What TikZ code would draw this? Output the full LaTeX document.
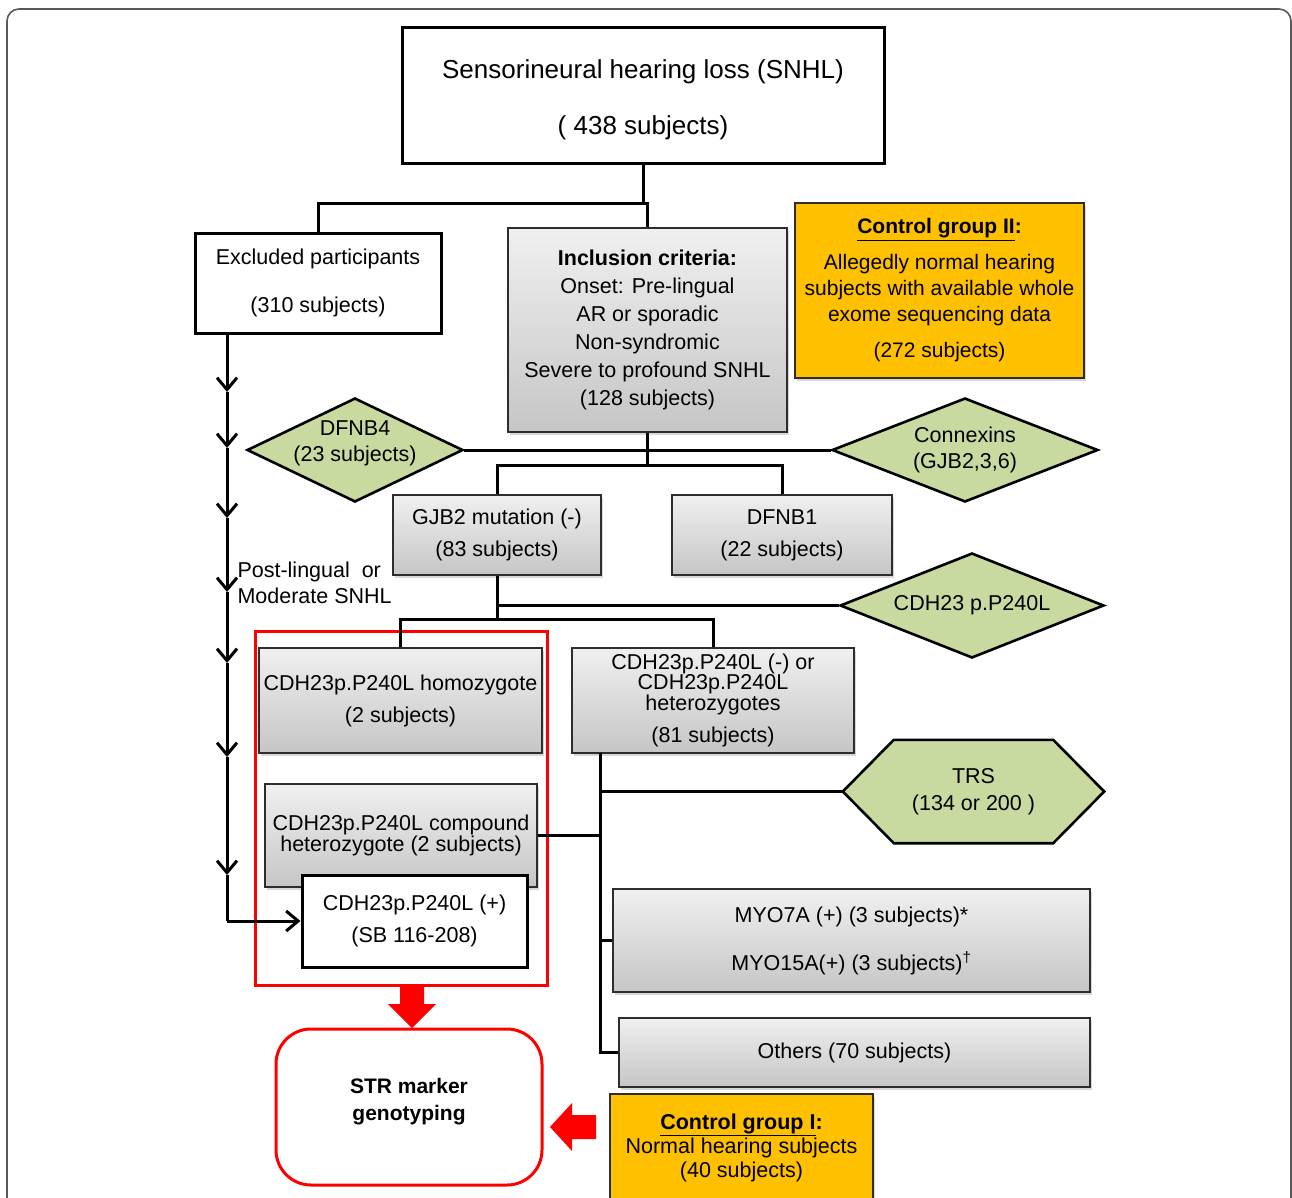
\documentclass[tikz,border=0pt]{standalone}
\usepackage{fontspec}
\setmainfont{Liberation Sans}
\usetikzlibrary{shapes.geometric,arrows.meta,shadows}
\definecolor{boxgreen}{RGB}{200,218,160}
\definecolor{ctrlorange}{RGB}{255,192,0}
\definecolor{boxedge}{RGB}{45,45,45}
\newcommand{\myfs}[1]{\fontsize{21.5}{#1}\selectfont}
\tikzset{
  conn/.style={line width=3pt, black},
  chev/.style={conn, -{Straight Barb[length=12pt,width=20pt,line width=3pt]}},
  wbox/.style={draw=black, line width=3pt, fill=white, inner sep=0pt, align=center},
  gbox/.style={draw=boxedge, line width=1.8pt, top color=gray!12, bottom color=gray!45,
    inner sep=0pt, align=center,
    drop shadow={shadow xshift=2pt, shadow yshift=-3pt, opacity=0.3}},
  obox/.style={draw=boxedge, line width=1.8pt, fill=ctrlorange, inner sep=0pt, align=center,
    drop shadow={shadow xshift=2pt, shadow yshift=-3pt, opacity=0.3}},
  gdiam/.style={diamond, draw=black, line width=2.6pt, fill=boxgreen, inner sep=0pt},
  greenshape/.style={draw=black, line width=2.6pt, fill=boxgreen, line join=miter},
  redblock/.style={fill=red, draw=none},
}
\begin{document}
\begin{tikzpicture}[x=1pt, y=-1pt]
\useasboundingbox (0,0) rectangle (1292,1197);
\clip (0,0) rectangle (1292,1197);
\fill[white] (0,0) rectangle (1292,1197);
% outer frame
\draw[line width=1.6pt, black!65, rounded corners=12pt] (7,1230) -- (7,9) -- (1291,9) -- (1291,1230);

% boxes
\node[wbox, minimum width=482, minimum height=136,
  label={[align=center, font=\fontsize{26}{56}\selectfont, yshift=-5pt]center:Sensorineural hearing loss (SNHL)\\( 438 subjects)}] (snhl) at (643,95) {};
\node[wbox, minimum width=246, minimum height=100, font=\myfs{48}] (excl) at (318,283)
  {Excluded participants\\(310 subjects)};
\node[gbox, minimum width=279, minimum height=204, font=\myfs{28}] (incl) at (647.5,330)
  {\textbf{Inclusion criteria:}\\Onset: Pre-lingual\\AR or sporadic\\Non-syndromic\\Severe to profound SNHL\\(128 subjects)};
\node[obox, minimum width=289, minimum height=175, font=\fontsize{21}{26}\selectfont] (ctrl2) at (939.5,290.5)
  {\textbf{\underline{Control group II}:}\\[10pt]Allegedly normal hearing\\subjects with available whole\\exome sequencing data\\[10pt](272 subjects)};

\node[gdiam, minimum width=216, minimum height=104,
  label={[align=center, font=\myfs{26}, yshift=7pt]center:DFNB4\\(23 subjects)}] (dfnb4) at (355,450) {};
\node[gdiam, minimum width=266, minimum height=104,
  label={[align=center, font=\myfs{26}]center:Connexins\\(GJB2,3,6)}] (conx) at (965,450) {};

\node[gbox, minimum width=208, minimum height=80, font=\myfs{32}] (gjb2) at (497,535)
  {GJB2 mutation (-)\\(83 subjects)};
\node[gbox, minimum width=220, minimum height=80, font=\myfs{32}] (dfnb1) at (782,535)
  {DFNB1\\(22 subjects)};

\node[gdiam, minimum width=264, minimum height=105,
  label={[font=\myfs{26}]center:CDH23 p.P240L}] (cdh) at (972,605.5) {};

% red frame
\node[draw=red, line width=3pt, minimum width=292, minimum height=354, inner sep=0pt] (redframe) at (401,808) {};

\node[gbox, minimum width=283, minimum height=105, font=\myfs{32}] (homo) at (400.5,700.5)
  {CDH23p.P240L homozygote\\(2 subjects)};
\node[gbox, minimum width=282, minimum height=105, font=\myfs{20}] (minus) at (713,700.5)
  {CDH23p.P240L (-) or\\CDH23p.P240L\\heterozygotes\\[11pt](81 subjects)};
\node[gbox, minimum width=272, minimum height=103, font=\myfs{20}] (comp) at (401,835.5)
  {CDH23p.P240L compound\\heterozygote (2 subjects)};
\node[wbox, minimum width=225, minimum height=92, font=\myfs{32}] (plus) at (414.5,921)
  {CDH23p.P240L (+)\\(SB 116-208)};

% TRS hexagon
\path node[minimum width=261, minimum height=103, inner sep=0pt] (trs) at (973.5,791.5) {};
\draw[greenshape] (trs.west) -- ([xshift=51pt]trs.north west) -- ([xshift=-51pt]trs.north east)
  -- (trs.east) -- ([xshift=-51pt]trs.south east) -- ([xshift=51pt]trs.south west) -- cycle;
\node[align=center, font=\myfs{27}] (trstext) at (trs.center) {TRS\\(134 or 200 )};

\node[gbox, minimum width=477, minimum height=103, font=\myfs{48}] (myo) at (851.5,940.5)
  {MYO7A (+) (3 subjects)*\\MYO15A(+) (3 subjects)\textsuperscript{†}};
\node[gbox, minimum width=471, minimum height=69, font=\myfs{26}] (others) at (854.5,1052.5)
  {Others (70 subjects)};

\node[draw=red, line width=3pt, rounded corners=35pt, minimum width=266, minimum height=156,
  inner sep=0pt,
  label={[align=center, font=\fontsize{21}{27}\selectfont\bfseries, yshift=5pt]center:STR marker\\genotyping}] (str) at (409,1107) {};
\node[obox, minimum width=263, minimum height=108, font=\myfs{24}] (ctrl1) at (741.5,1148)
  {\textbf{\underline{Control group I}:}\\Normal hearing subjects\\(40 subjects)};

% text on left
\node[anchor=west, align=left, font=\myfs{26}] (postl) at (234,583) {Post-lingual~~or\\Moderate SNHL};

% connectors
\coordinate (j1) at (643,203);
\draw[conn] (snhl.south) -- (j1);
\draw[conn] (j1) -| (excl.north);
\draw[conn] (j1) -| (incl.north);
\draw[conn] (dfnb4.east) -- (conx.west);
\coordinate (j2) at (647.5,465);
\draw[conn] (incl.south) -- (j2);
\draw[conn] (j2) -| (gjb2.north);
\draw[conn] (j2) -| (dfnb1.north);
\coordinate (j3) at (497,619);
\draw[conn] (gjb2.south) -- (j3);
\draw[conn] (gjb2.south |- cdh.west) -- (cdh.west);
\draw[conn] (j3) -| (homo.north);
\draw[conn] (j3) -| (minus.north);
\coordinate (v0) at (600,753);
\draw[conn] (v0) |- (others.west);
\draw[conn] (v0 |- trs.west) -- (trs.west);
\draw[conn] (v0 |- comp.east) -- (comp.east);
\draw[conn] (v0 |- myo.west) -- (myo.west);

% left chevron chain
\coordinate (a0) at (227,333);
\coordinate (a1) at (227,392);
\coordinate (a2) at (227,448);
\coordinate (a3) at (227,518);
\coordinate (a4) at (227,592);
\coordinate (a5) at (227,663);
\coordinate (a6) at (227,757);
\coordinate (a7) at (227,875);
\coordinate (a8) at (227,921);
\draw[chev] (a0) -- (a1);
\draw[chev] (a1) -- (a2);
\draw[chev] (a2) -- (a3);
\draw[chev] (a3) -- (a4);
\draw[chev] (a4) -- (a5);
\draw[chev] (a5) -- (a6);
\draw[chev] (a6) -- (a7);
\draw[conn] (a7) -- (a8);
\draw[chev] (a8) -- (plus.west);

% red block arrows
\fill[redblock] (400,985) -- (424,985) -- (424,1004) -- (436,1004) -- (412,1028) -- (388,1004) -- (400,1004) -- cycle;
\fill[redblock] (596,1115) -- (572,1115) -- (572,1103) -- (550,1127) -- (572,1151) -- (572,1139) -- (596,1139) -- cycle;
\end{tikzpicture}
\end{document}
